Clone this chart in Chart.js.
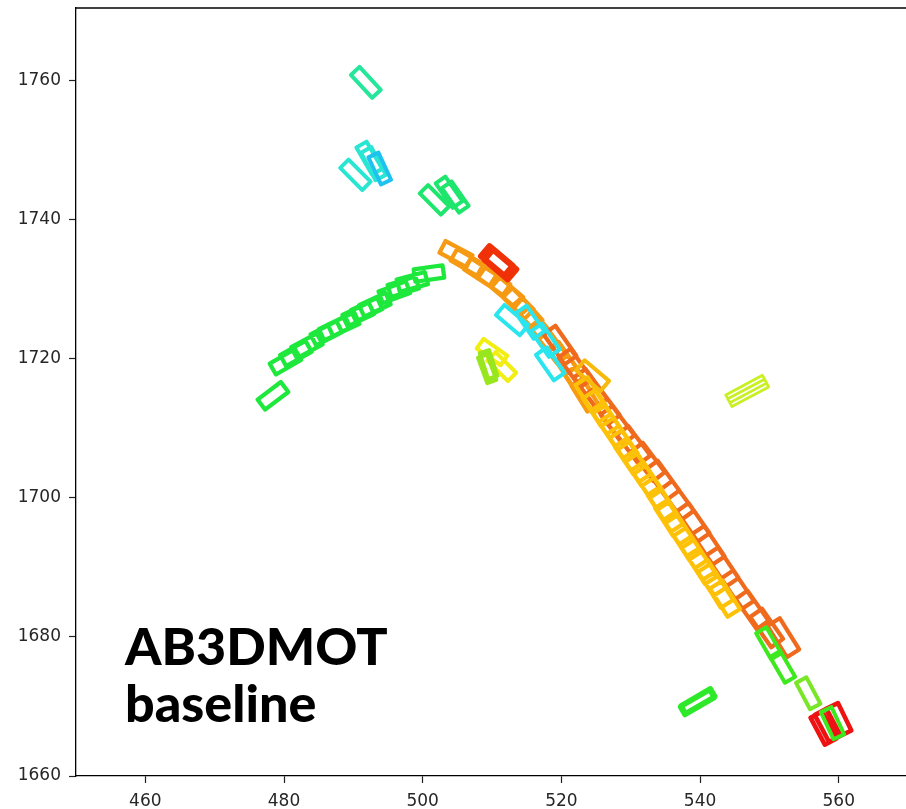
<!DOCTYPE html>
<html>
<head>
<meta charset="utf-8">
<script src="https://cdn.jsdelivr.net/npm/chart.js@4.4.0/dist/chart.umd.min.js"></script>
<style>
  html, body { margin: 0; padding: 0; background: #fff; }
  #wrap { width: 906px; height: 809px; }
</style>
</head>
<body>
<div id="wrap"><canvas id="chart" width="906" height="809"></canvas></div>
<script>
// axis ranges and tick labels
const xTicks = [460, 480, 500, 520, 540, 560];
const yTicks = [1660, 1680, 1700, 1720, 1740, 1760];
const xRange = [450, 569.7];
const yRange = [1660, 1770.5];

// boxes per track: [center x, center y, heading in degrees]
const greenArc = [
  [478.4, 1714.7, 37], [480.2, 1719.6, 30], [481.7, 1720.8, 29], [483.3, 1721.9, 28],
  [486.1, 1723.7, 27], [487.3, 1724.4, 26], [488.6, 1725.0, 25], [490.7, 1726.4, 25],
  [491.9, 1727.1, 25], [493.1, 1727.8, 25], [495.9, 1729.6, 20], [497.2, 1730.4, 17],
  [498.5, 1731.1, 15], [500.9, 1732.3, 8]
];
const orangeTrack = [
  [504.8, 1735.1, -28], [506.4, 1733.9, -30], [508.3, 1732.5, -33], [510.3, 1731.2, -35],
  [512.2, 1729.6, -40], [513.8, 1728.0, -45], [515.1, 1726.6, -48], [516.1, 1725.2, -50],
  [517.4, 1723.3, -52], [518.8, 1721.7, -53], [520.1, 1720.1, -55], [521.3, 1718.3, -56],
  [522.4, 1716.5, -57], [523.4, 1714.8, -58]
];
const darkOrangeTrack = [
  [519.8, 1722.0, -55], [522.0, 1718.7, -54], [524.2, 1715.8, -54], [526.0, 1713.4, -53],
  [528.1, 1710.5, -53], [530.4, 1707.6, -53], [532.5, 1705.2, -53], [534.6, 1702.6, -54],
  [536.7, 1699.7, -54], [539.0, 1696.5, -55], [541.2, 1693.2, -56], [543.2, 1690.1, -56],
  [545.4, 1686.8, -56], [547.5, 1683.9, -55], [549.6, 1681.3, -55], [552.0, 1679.9, -58]
];
const yellowTrack = [
  [524.2, 1714.8, -57], [525.3, 1712.9, -57], [526.5, 1711.2, -56], [527.6, 1709.5, -56],
  [528.8, 1707.8, -56], [529.9, 1706.0, -56], [531.1, 1704.3, -56], [532.3, 1702.6, -56],
  [533.4, 1700.9, -57], [534.6, 1699.0, -57], [535.7, 1697.1, -57], [536.9, 1695.4, -57],
  [538.0, 1693.7, -57], [539.2, 1691.9, -57], [540.3, 1690.2, -57], [541.5, 1688.5, -57],
  [542.6, 1686.8, -58], [543.6, 1685.5, -58]
];
const goldBoxes = [[524.5, 1717.6, -40]];
const cyanBoxes = [[512.9, 1725.6, -40], [515.5, 1725.3, -55], [517.7, 1722.7, -55], [518.4, 1719.3, -55]];
const tealBoxes = [[491.8, 1759.8, -47]];
const aquaBoxes = [[490.3, 1746.5, -45], [492.3, 1748.9, -60], [492.9, 1748.1, -62]];
const blueCyanBoxes = [[493.8, 1747.4, -65]];
const springGreenBoxes = [[501.7, 1742.9, -45], [503.8, 1744.0, -55], [504.7, 1743.3, -55]];
const redBoxes = [[510.7, 1734.1, -40], [511.2, 1733.6, -40]];
const brightRedBoxes = [[557.8, 1666.9, -62], [558.4, 1667.3, -62], [560.0, 1668.1, -64]];
const limeBoxes = [[549.9, 1679.1, -60], [551.9, 1675.7, -60], [559.1, 1667.6, -65]];
const parkedGreenBoxes = [[539.6, 1670.6, 30], [539.7, 1670.8, 30]];
const lightLimeBoxes = [[555.6, 1671.9, -62]];
const chartreuseBoxes = [[546.95, 1715.12, 28], [546.65, 1715.68, 28]];
const yellowBoxes = [[510.0, 1721.0, -35], [511.4, 1718.9, -45]];
const yellowGreenBoxes = [[509.3, 1718.6, -70], [509.5, 1719.2, -72]];

// track name, boxes, colour, box length, box width (data units), line width
const tracks = [
  ['green arc', greenArc, '#1ee83c', 4.2, 1.8, 4.2],
  ['orange', orangeTrack, '#f59a12', 4.4, 1.9, 4.2],
  ['dark orange', darkOrangeTrack, '#f06a1e', 5.3, 2.1, 4.2],
  ['yellow', yellowTrack, '#fdc208', 4.8, 2.1, 4.2],
  ['gold', goldBoxes, '#f7b90c', 4.6, 1.9, 4],
  ['cyan', cyanBoxes, '#2ae4ee', 4.5, 1.9, 4],
  ['teal', tealBoxes, '#26e69c', 4.5, 1.7, 4],
  ['aqua', aquaBoxes, '#28e6d2', 4.5, 1.7, 4],
  ['blue cyan', blueCyanBoxes, '#1ec2f0', 4.3, 1.6, 4],
  ['spring green', springGreenBoxes, '#1ee66c', 4.3, 1.7, 4],
  ['red', redBoxes, '#f03006', 4.4, 1.9, 6],
  ['bright red', brightRedBoxes, '#ee1212', 4.4, 1.9, 4.5],
  ['lime', limeBoxes, '#3ee81e', 4.3, 1.7, 4],
  ['parked green', parkedGreenBoxes, '#2ee82a', 4.9, 1.3, 5],
  ['light lime', lightLimeBoxes, '#7ae62a', 4.3, 1.7, 4],
  ['chartreuse', chartreuseBoxes, '#c8f024', 6.0, 1.27, 2.8],
  ['yellow', yellowBoxes, '#f2ee12', 4.2, 1.7, 4],
  ['yellow green', yellowGreenBoxes, '#98e61e', 3.9, 1.4, 4]
];

function boxOutline(b, len, wid) {
  const t = b[2] * Math.PI / 180;
  const c = Math.cos(t), s = Math.sin(t);
  const pts = [];
  [[1, 1], [1, -1], [-1, -1], [-1, 1], [1, 1]].forEach(([a, d]) => {
    pts.push({
      x: b[0] + a * len / 2 * c - d * wid / 2 * s,
      y: b[1] + a * len / 2 * s + d * wid / 2 * c
    });
  });
  return pts;
}

const datasets = tracks.map(([name, boxes, color, len, wid, lw]) => {
  let data = [];
  boxes.forEach(b => {
    data = data.concat(boxOutline(b, len, wid));
    data.push({ x: b[0], y: null });
  });
  return {
    label: name,
    data: data,
    showLine: true,
    spanGaps: false,
    borderColor: color,
    borderWidth: lw,
    borderJoinStyle: 'round',
    borderCapStyle: 'round',
    pointRadius: 0,
    fill: false,
    tension: 0
  };
}).reverse(); // first dataset is drawn on top

const overlay = {
  id: 'overlay',
  afterDraw(chart) {
    const ctx = chart.ctx;
    const a = chart.chartArea;
    ctx.save();
    ctx.strokeStyle = '#000';
    ctx.lineWidth = 1.3;
    ctx.beginPath();
    ctx.moveTo(a.left, a.top);
    ctx.lineTo(a.right, a.top);
    ctx.stroke();
    ctx.fillStyle = '#000';
    ctx.font = '900 52px Lato';
    ctx.textAlign = 'left';
    ctx.textBaseline = 'alphabetic';
    ctx.fillText('AB3DMOT', 125, 665);
    ctx.fillText('baseline', 125, 722);
    ctx.restore();
  }
};

const tickFont = { family: 'DejaVu Sans', size: 17 };
const plain = v => String(v);

new Chart(document.getElementById('chart'), {
  type: 'scatter',
  data: { datasets: datasets },
  options: {
    responsive: false,
    animation: false,
    layout: { padding: { top: 8, right: 0, left: 0, bottom: 0 } },
    plugins: { legend: { display: false }, tooltip: { enabled: false } },
    scales: {
      x: {
        type: 'linear',
        min: xRange[0],
        max: xRange[1],
        afterBuildTicks: s => { s.ticks = xTicks.map(v => ({ value: v })); },
        afterFit: s => { s.height = 33; s.paddingLeft = 0; s.paddingRight = 0; },
        ticks: { font: tickFont, color: '#262626', padding: 8, maxRotation: 0, callback: plain },
        grid: { drawOnChartArea: false, tickLength: 7, color: '#222', tickWidth: 1.2 },
        border: { color: '#000', width: 1.3 }
      },
      y: {
        type: 'linear',
        min: yRange[0],
        max: yRange[1],
        afterBuildTicks: s => { s.ticks = yTicks.map(v => ({ value: v })); },
        afterFit: s => { s.width = 76; s.paddingTop = 0; s.paddingBottom = 0; },
        ticks: { font: tickFont, color: '#262626', padding: 8, callback: plain },
        grid: { drawOnChartArea: false, tickLength: 7, color: '#222', tickWidth: 1.2 },
        border: { color: '#000', width: 1.3 }
      }
    }
  },
  plugins: [overlay]
});
</script>
</body>
</html>
